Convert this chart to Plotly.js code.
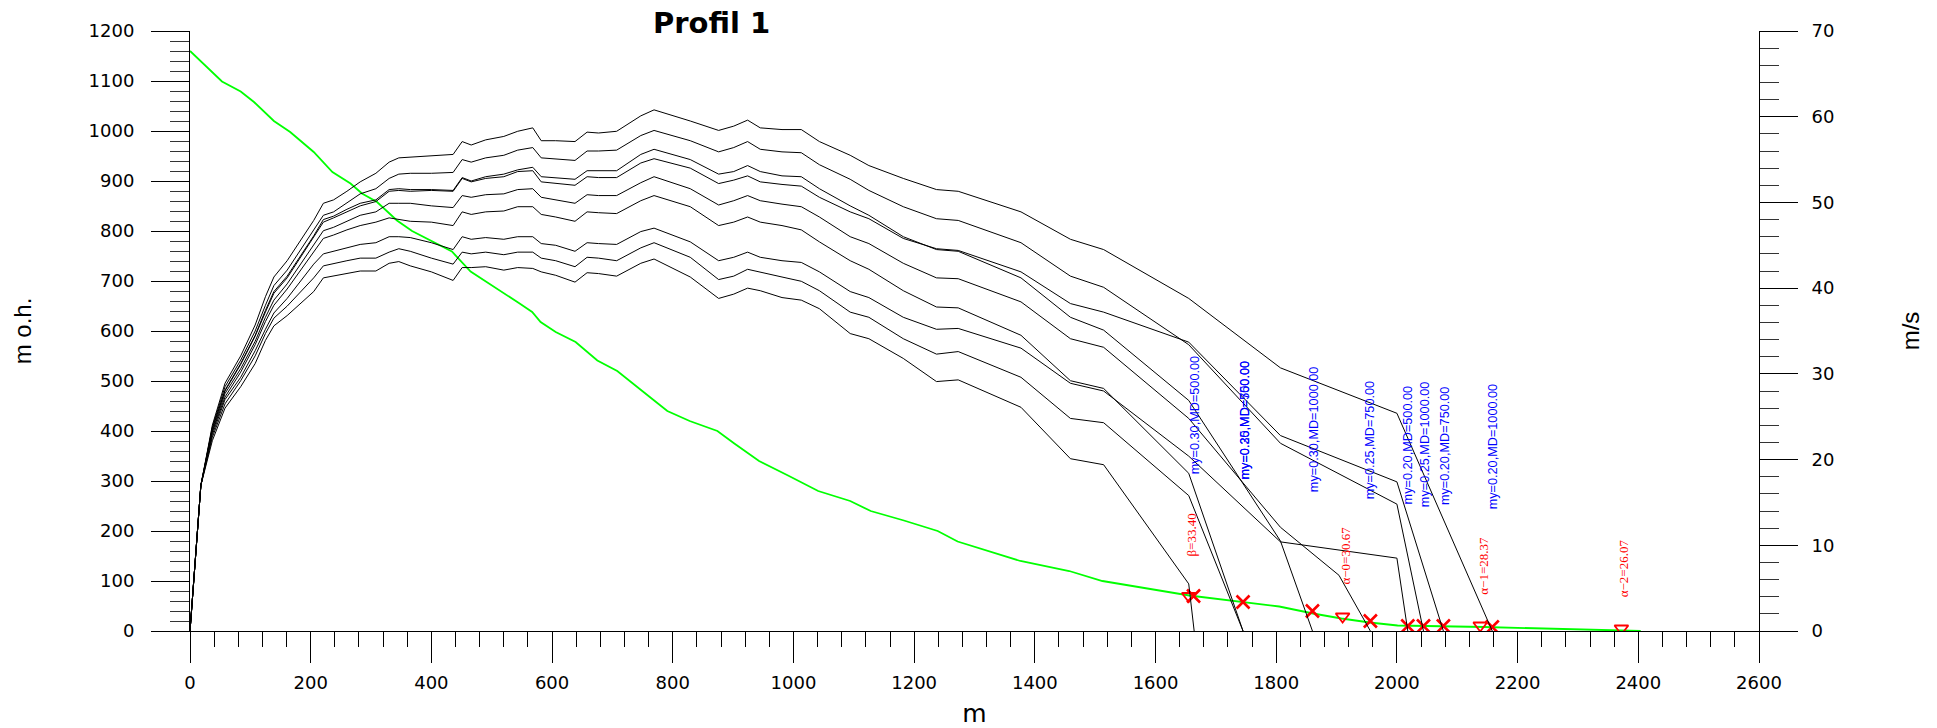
<!DOCTYPE html>
<html>
<head>
<meta charset="utf-8">
<script src="https://cdn.plot.ly/plotly-3.0.1.min.js"></script>
<style>html,body{margin:0;padding:0;background:#fff;}#chart{width:1937px;height:728px;}</style>
</head>
<body>
<div id="chart"></div>
<script>
// ---------- terrain profile (m o.h.) ----------
const terrainDist = [0, 53, 84, 106, 139, 166, 205, 236, 266, 285, 310, 343, 368, 398, 434, 465, 517, 545, 567, 581, 606, 639, 675, 708, 765, 791, 828, 874, 902, 943, 991, 1041, 1094, 1128, 1183, 1239, 1272, 1323, 1376, 1457, 1512, 1656, 1746, 1805, 1861, 1908, 1955, 2001, 2144, 2309, 2404];
const terrainElev = [1160, 1099, 1079, 1058, 1020, 998, 958, 918, 895, 875, 858, 821, 800, 781, 759, 719, 679, 656, 638, 618, 598, 578, 541, 520, 465, 440, 420, 400, 375, 340, 311, 280, 260, 240, 221, 200, 179, 160, 140, 120, 100, 71, 58, 49, 35, 25, 17, 11, 8, 3, 0];

// ---------- velocity profiles (m/s), common stations ----------
const dist = [0, 18, 37, 58, 84, 108, 125, 139, 161, 205, 221, 238, 260, 282, 308, 330, 346, 365, 400, 436, 451, 466, 490, 520, 543, 568, 582, 606, 638, 658, 677, 707, 747, 769, 829, 876, 901, 924, 945, 981, 1013, 1043, 1094, 1125, 1182, 1237, 1273, 1377, 1459, 1514, 1655];

const v_my020_md1000 = [0, 17.0, 24.0, 28.9, 32.1, 35.7, 39.0, 41.3, 43.2, 47.9, 49.9, 50.3, 51.3, 52.4, 53.4, 54.7, 55.2, 55.3, 55.4, 55.6, 57.1, 56.7, 57.3, 57.7, 58.3, 58.7, 57.2, 57.2, 57.1, 58.2, 58.1, 58.3, 60.1, 60.8, 59.5, 58.4, 58.9, 59.6, 58.7, 58.5, 58.5, 57.1, 55.5, 54.3, 52.8, 51.5, 51.3, 48.9, 45.7, 44.5, 38.8];
const tailX_my020_md1000 = [1807, 2000, 2158];
const tailV_my020_md1000 = [30.7, 25.4, 0];

const v_my025_md1000 = [0, 17.0, 23.8, 28.5, 31.6, 35.0, 38.0, 40.3, 42.1, 46.7, 48.5, 48.9, 49.9, 51.0, 51.6, 52.8, 53.3, 53.4, 53.4, 53.5, 55.0, 54.7, 55.2, 55.5, 56.1, 56.4, 55.2, 55.1, 54.9, 56.0, 56.0, 56.1, 57.8, 58.4, 57.2, 55.9, 56.4, 57.1, 56.2, 55.9, 55.8, 54.4, 52.7, 51.4, 49.5, 48.1, 47.9, 45.3, 41.4, 40.1, 33.4];
const tailX_my025_md1000 = [1807, 2000, 2044];
const tailV_my025_md1000 = [21.9, 14.8, 0];

const v_my030_md1000 = [0, 17.0, 23.6, 28.1, 31.2, 34.5, 37.4, 39.6, 41.4, 46.1, 48.0, 48.4, 49.2, 49.9, 50.3, 51.5, 51.6, 51.5, 51.5, 51.4, 52.9, 52.5, 53.0, 53.3, 53.8, 54.1, 53.0, 52.9, 52.7, 53.7, 53.7, 53.7, 55.6, 56.2, 55.0, 53.3, 53.6, 54.3, 53.6, 53.1, 53.0, 51.6, 49.6, 48.5, 46.0, 44.5, 44.3, 41.2, 36.6, 35.1, 26.9];
const tailX_my030_md1000 = [1807, 1860];
const tailV_my030_md1000 = [10.5, 0];

const v_my020_md750 = [0, 17.0, 23.6, 28.0, 31.1, 34.4, 37.2, 39.4, 41.2, 45.9, 47.7, 48.2, 48.9, 49.6, 50.1, 51.3, 51.4, 51.3, 51.4, 51.3, 52.8, 52.4, 52.8, 53.0, 53.6, 53.7, 52.4, 52.2, 52.0, 53.0, 52.9, 52.9, 54.6, 55.1, 54.0, 52.2, 52.6, 53.1, 52.4, 52.1, 51.9, 50.6, 48.9, 48.1, 45.8, 44.6, 44.4, 41.9, 38.2, 37.2, 33.7];
const tailX_my020_md750 = [1807, 2000, 2077];
const tailV_my020_md750 = [22.8, 17.4, 0];

const v_my025_md750 = [0, 17.0, 23.3, 27.7, 30.6, 33.8, 36.6, 38.6, 40.5, 45.0, 46.7, 47.1, 47.8, 48.5, 48.9, 49.9, 49.9, 49.9, 49.6, 49.4, 50.8, 50.6, 50.9, 51.0, 51.5, 51.6, 50.6, 50.3, 49.9, 50.9, 50.8, 50.8, 52.3, 53.0, 51.6, 49.7, 50.2, 50.8, 50.2, 49.8, 49.5, 48.3, 46.0, 45.2, 42.9, 41.2, 41.1, 38.4, 34.1, 33.1, 24.8];
const tailX_my025_md750 = [1807, 1904, 1956];
const tailV_my025_md750 = [12.1, 6.5, 0];

const v_my030_md750 = [0, 17.0, 23.2, 27.3, 30.2, 33.4, 36.1, 38.0, 39.9, 44.3, 45.8, 46.2, 46.8, 47.3, 47.7, 48.2, 48.0, 47.8, 47.7, 47.3, 48.9, 48.6, 48.9, 49.0, 49.5, 49.5, 48.6, 48.3, 47.8, 48.9, 48.8, 48.7, 50.2, 50.8, 49.5, 47.3, 47.7, 48.3, 47.7, 47.3, 46.8, 45.4, 43.2, 42.2, 39.7, 37.8, 37.7, 34.5, 29.2, 28.3, 18.4];
const tailX_my030_md750 = [1745];
const tailV_my030_md750 = [0];

const v_my020_md500 = [0, 17.0, 22.9, 27.0, 29.6, 32.7, 35.2, 37.1, 38.8, 42.8, 44.0, 44.3, 44.7, 45.1, 45.3, 46.0, 46.0, 45.9, 45.3, 44.5, 46.0, 45.7, 45.9, 45.7, 46.0, 46.0, 45.2, 45.0, 44.3, 45.3, 45.2, 45.1, 46.6, 47.0, 45.4, 43.2, 43.6, 44.2, 43.6, 43.2, 43.0, 41.9, 39.6, 38.9, 36.6, 35.2, 35.3, 33.0, 28.9, 28.0, 20.4];
const tailX_my020_md500 = [1807, 2000, 2018];
const tailV_my020_md500 = [10.4, 8.5, 0];

const v_my025_md500 = [0, 17.0, 22.6, 26.5, 29.2, 32.1, 34.7, 36.5, 37.9, 41.2, 42.6, 42.9, 43.2, 43.5, 43.5, 44.2, 44.6, 44.3, 43.5, 42.8, 44.2, 44.0, 44.2, 43.9, 44.2, 44.2, 43.5, 43.2, 42.5, 43.6, 43.5, 43.2, 44.7, 45.3, 43.6, 41.0, 41.4, 42.2, 41.9, 41.3, 40.8, 39.7, 37.2, 36.6, 34.1, 32.3, 32.6, 29.6, 24.8, 24.3, 15.8];
const tailX_my025_md500 = [1745];
const tailV_my025_md500 = [0];

const v_my030_md500 = [0, 17.0, 22.2, 26.0, 28.5, 31.2, 33.9, 35.6, 36.8, 39.6, 41.2, 41.4, 41.7, 42.0, 42.0, 42.9, 43.1, 42.6, 41.9, 40.9, 42.4, 42.4, 42.5, 42.1, 42.4, 42.3, 41.9, 41.5, 40.7, 41.8, 41.7, 41.4, 42.9, 43.4, 41.3, 38.8, 39.3, 40.0, 39.7, 38.9, 38.6, 37.6, 34.7, 34.1, 31.8, 29.1, 29.3, 26.1, 20.1, 19.4, 5.5];
const tailX_my030_md500 = [1664];
const tailV_my030_md500 = [0];

// ---------- runout points (X) on terrain ----------
const runoutDist = [1663, 1745, 1860, 1956, 2018, 2044, 2077, 2158];
const runoutElev = [70, 58, 40, 20, 10, 10, 10, 8];

// ---------- angle points (triangles) ----------
const angleDist = [1655, 1910, 2138, 2372];
const angleElev = [70, 29, 11, 5];
const angleLabels = ['β=33.40', 'α−0=30.67', 'α−1=28.37', 'α−2=26.07'];
const angleLabelDist = [1658, 1914, 2143, 2376];
const angleLabelBase = [147, 91, 71, 65];

// ---------- run labels ----------
const runLabels = ['my=0.30,MD=500.00', 'my=0.30,MD=750.00', 'my=0.25,MD=500.00', 'my=0.30,MD=1000.00', 'my=0.25,MD=750.00', 'my=0.20,MD=500.00', 'my=0.25,MD=1000.00', 'my=0.20,MD=750.00', 'my=0.20,MD=1000.00'];
const runLabelDist = [1666, 1749, 1749, 1862, 1956, 2019, 2046, 2079, 2159];
const runLabelBase = [311, 301, 301, 275, 261, 251, 245, 250, 241];

const velSeries = [
  [v_my020_md1000, tailX_my020_md1000, tailV_my020_md1000, 'my=0.20,MD=1000.00'],
  [v_my025_md1000, tailX_my025_md1000, tailV_my025_md1000, 'my=0.25,MD=1000.00'],
  [v_my030_md1000, tailX_my030_md1000, tailV_my030_md1000, 'my=0.30,MD=1000.00'],
  [v_my020_md750, tailX_my020_md750, tailV_my020_md750, 'my=0.20,MD=750.00'],
  [v_my025_md750, tailX_my025_md750, tailV_my025_md750, 'my=0.25,MD=750.00'],
  [v_my030_md750, tailX_my030_md750, tailV_my030_md750, 'my=0.30,MD=750.00'],
  [v_my020_md500, tailX_my020_md500, tailV_my020_md500, 'my=0.20,MD=500.00'],
  [v_my025_md500, tailX_my025_md500, tailV_my025_md500, 'my=0.25,MD=500.00'],
  [v_my030_md500, tailX_my030_md500, tailV_my030_md500, 'my=0.30,MD=500.00']
];

const traces = [];
traces.push({
  type: 'scatter', mode: 'lines', name: 'terrain',
  x: terrainDist, y: terrainElev, xaxis: 'x', yaxis: 'y',
  line: {color: '#00ff00', width: 1.8}, hoverinfo: 'skip'
});
traces.push({
  type: 'scatter', mode: 'markers', name: 'runout',
  x: runoutDist, y: runoutElev, xaxis: 'x', yaxis: 'y',
  marker: {symbol: 'x-thin-open', size: 13, color: '#ff0000', line: {color: '#ff0000', width: 2.6}}
});
traces.push({
  type: 'scatter', mode: 'markers', name: 'angles',
  x: angleDist, y: angleElev, xaxis: 'x', yaxis: 'y',
  marker: {symbol: 'triangle-down-open', size: 12, color: '#ff0000', line: {color: '#ff0000', width: 1.8}}
});
velSeries.forEach(function (s) {
  traces.push({
    type: 'scatter', mode: 'lines', name: s[3],
    x: dist.concat(s[1]), y: s[0].concat(s[2]),
    xaxis: 'x', yaxis: 'y2',
    line: {color: '#000000', width: 1}
  });
});

const annotations = [];
runLabels.forEach(function (t, i) {
  annotations.push({
    text: t, x: runLabelDist[i], y: runLabelBase[i], xref: 'x', yref: 'y',
    xanchor: 'center', yanchor: 'bottom', textangle: -90, showarrow: false, borderpad: 0,
    font: {family: 'Liberation Sans, Arial, sans-serif', size: 12.7, color: '#0000ff'}
  });
});
angleLabels.forEach(function (t, i) {
  annotations.push({
    text: t, x: angleLabelDist[i], y: angleLabelBase[i], xref: 'x', yref: 'y',
    xanchor: 'center', yanchor: 'bottom', textangle: -90, showarrow: false, borderpad: 0,
    font: {family: 'Liberation Serif, Times New Roman, serif', size: 13, color: '#ff0000'}
  });
});

const tickFont = {family: 'DejaVu Sans, sans-serif', size: 18, color: '#000'};
const layout = {
  width: 1937, height: 728,
  margin: {l: 190, r: 178, t: 31, b: 97, pad: 0},
  paper_bgcolor: '#ffffff', plot_bgcolor: '#ffffff',
  showlegend: false,
  title: {text: 'Profil 1', x: 711.6 / 1937, xanchor: 'center', xref: 'container', y: 1 - 23 / 728, yanchor: 'middle', yref: 'container',
          font: {family: 'DejaVu Sans, sans-serif', size: 29, weight: 700, color: '#000'}},
  xaxis: {
    range: [0, 2600], showgrid: false, zeroline: false,
    showline: true, linecolor: '#000', linewidth: 1,
    ticks: 'outside', ticklen: 31, tickwidth: 1, tickcolor: '#000',
    tick0: 0, dtick: 200, tickfont: tickFont, ticklabelstandoff: 4,
    minor: {ticks: 'outside', ticklen: 15, tickwidth: 1, tickcolor: '#000', dtick: 40, showgrid: false},
    title: {text: 'm', font: {family: 'DejaVu Sans, sans-serif', size: 25, color: '#000'}, standoff: 15},
    fixedrange: true
  },
  yaxis: {
    range: [0, 1200], showgrid: false, zeroline: false,
    showline: true, linecolor: '#000', linewidth: 1,
    ticks: 'outside', ticklen: 38, tickwidth: 1, tickcolor: '#000',
    tick0: 0, dtick: 100, tickfont: tickFont, ticklabelstandoff: 13,
    minor: {ticks: 'outside', ticklen: 19, tickwidth: 1, tickcolor: '#333', dtick: 20, showgrid: false},
    title: {text: 'm o.h.', font: {family: 'Liberation Sans, Arial, sans-serif', size: 24, color: '#000'}, standoff: 50},
    fixedrange: true
  },
  yaxis2: {
    range: [0, 70], overlaying: 'y', side: 'right', anchor: 'x',
    showgrid: false, zeroline: false,
    showline: true, linecolor: '#000', linewidth: 1,
    ticks: 'outside', ticklen: 38, tickwidth: 1, tickcolor: '#000',
    tick0: 0, dtick: 10, tickfont: tickFont, ticklabelstandoff: 10,
    minor: {ticks: 'outside', ticklen: 19, tickwidth: 1, tickcolor: '#333', dtick: 2, showgrid: false},
    title: {text: 'm/s', font: {family: 'Liberation Sans, Arial, sans-serif', size: 24, color: '#000'}, standoff: 68},
    fixedrange: true
  },
  annotations: annotations
};

Plotly.newPlot('chart', traces, layout, {displayModeBar: false, staticPlot: true});
</script>
</body>
</html>
